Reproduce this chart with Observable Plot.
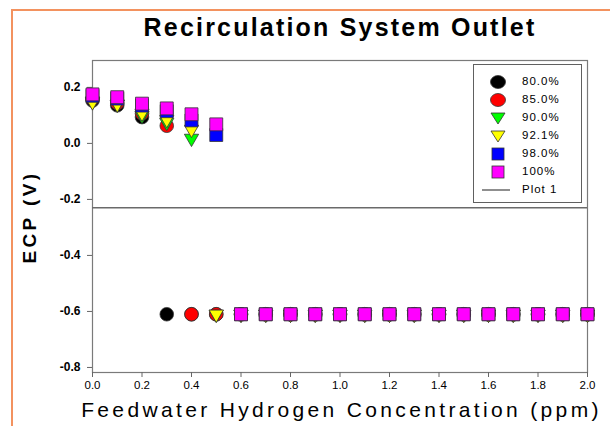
<!DOCTYPE html>
<html>
<head>
<meta charset="utf-8">
<script src="https://cdn.jsdelivr.net/npm/d3@7"></script>
<script src="https://cdn.jsdelivr.net/npm/@observablehq/plot@0.6"></script>
<style>
  html, body { margin: 0; padding: 0; background: #fff; }
  #wrap { position: relative; width: 610px; height: 426px; overflow: hidden; font-family: "Liberation Sans", Arial, sans-serif; }
  #border { position: absolute; left: 11px; top: 9px; right: -5px; bottom: -5px; border-left: 2px solid #f3925f; border-top: 2px solid #f3925f; }
  #title { position: absolute; left: 0; width: 680px; top: 13px; text-align: center; font-weight: bold; font-size: 25px; letter-spacing: 2.2px; color: #000; }
  #chart { position: absolute; left: 0; top: 50px; }
  #xlabel { position: absolute; left: 0; width: 683px; top: 398px; text-align: center; font-size: 21px; letter-spacing: 3.35px; color: #000; }
  #ylabel { position: absolute; left: 30px; top: 217px; transform: translate(-50%, -50%) rotate(-90deg); font-weight: bold; font-size: 19px; letter-spacing: 3.4px; white-space: nowrap; color: #000; }
  #legend { position: absolute; left: 473px; top: 64px; width: 109px; height: 139px; border: 1px solid #606060; background: #fff; box-sizing: border-box; }
  .row { position: absolute; left: 0; height: 18px; display: flex; align-items: center; }
  .row svg { position: absolute; left: 14px; }
  .row span { position: absolute; left: 48px; font-size: 11.5px; letter-spacing: 1px; white-space: nowrap; }
</style>
</head>
<body>
<div id="wrap">
  <div id="border"></div>
  <div id="title">Recirculation System Outlet</div>
  <div id="chart"></div>
  <div id="xlabel">Feedwater Hydrogen Concentration (ppm)</div>
  <div id="ylabel">ECP (V)</div>
  <div id="legend"></div>
</div>
<script>
// Data
const h2 = [0.0,0.1,0.2,0.3,0.4,0.5,0.6,0.7,0.8,0.9,1.0,1.1,1.2,1.3,1.4,1.5,1.6,1.7,1.8,1.9,2.0];
const low = -0.61;
const s80  = [0.153,0.136,0.094,low,low,low,low,low,low,low,low,low,low,low,low,low,low,low,low,low,low];
const s85  = [0.160,0.144,0.107,0.063,low,low,low,low,low,low,low,low,low,low,low,low,low,low,low,low,low];
const s90  = [0.150,0.140,0.100,0.075,0.018,low,low,low,low,low,low,low,low,low,low,low,low,low,low,low,low];
const s921 = [0.148,0.140,0.108,0.085,0.050,low,low,low,low,low,low,low,low,low,low,low,low,low,low,low,low];
const s98  = [0.170,0.160,0.135,0.115,0.082,0.030,low,low,low,low,low,low,low,low,low,low,low,low,low,low,low];
const s100 = [0.175,0.165,0.142,0.125,0.104,0.068,low,low,low,low,low,low,low,low,low,low,low,low,low,low,low];
const seriesNames = ["80.0%","85.0%","90.0%","92.1%","98.0%","100%"];
const plot1Y = -0.23;
const xTicks = [0,0.2,0.4,0.6,0.8,1.0,1.2,1.4,1.6,1.8,2.0];
const yTicks = [-0.8,-0.6,-0.4,-0.2,0.0,0.2];

const styles = [
  {fill: "#000000", symbol: "circle", r: 6.8, rotate: 0},
  {fill: "#ff0000", symbol: "circle", r: 6.8, rotate: 0},
  {fill: "#00ff00", symbol: "triangle", r: 5.3, rotate: 180},
  {fill: "#ffff00", symbol: "triangle", r: 5.3, rotate: 180},
  {fill: "#0000ff", symbol: "square", r: 7.3, rotate: 0},
  {fill: "#ff00ff", symbol: "square", r: 7.3, rotate: 0}
];
const allSeries = [s80, s85, s90, s921, s98, s100];

const dotMarks = allSeries.map((vals, i) => {
  const rows = h2.map((x, j) => ({x, y: vals[j]})).filter(d => d.y != null);
  const st = styles[i];
  return Plot.dot(rows, {
    x: "x", y: "y", symbol: () => st.symbol, fill: st.fill, stroke: "#333",
    strokeWidth: 0.8, r: st.r, rotate: st.rotate
  });
});

const chart = Plot.plot({
  width: 610, height: 376,
  marginLeft: 92, marginRight: 23, marginTop: 10, marginBottom: 54,
  x: {domain: [0, 2]},
  y: {domain: [-0.818, 0.296]},
  symbol: {type: "identity"},
  style: {fontFamily: "Liberation Sans, Arial, sans-serif", fontSize: "11px", background: "transparent", color: "#000"},
  marks: [
    Plot.frame({stroke: "#7a7a7a", strokeWidth: 1.2}),
    Plot.ruleY([plot1Y], {stroke: "#6a6a6a", strokeWidth: 1.5}),
    Plot.axisX({ticks: xTicks, tickSize: 5, tickPadding: 3, tickFormat: d => d.toFixed(1), label: null, stroke: "#666", fill: "#000", fontSize: 11.5, style: "letter-spacing:1px"}),
    Plot.axisY({ticks: yTicks, tickSize: 5, tickPadding: 7, tickFormat: d => d.toFixed(1), label: null, stroke: "#666", fill: "#000", fontSize: 12, fontWeight: "bold"}),
    ...dotMarks
  ]
});
document.getElementById("chart").appendChild(chart);

// Legend
const leg = document.getElementById("legend");
function symPath(st) {
  if (st.symbol === "circle") return `<ellipse cx="10" cy="8" rx="7.5" ry="6.5" fill="${st.fill}" stroke="#333" stroke-width="0.8"/>`;
  if (st.symbol === "triangle") return `<path d="M3,3 L17,3 L10,14 Z" fill="${st.fill}" stroke="#333" stroke-width="0.8"/>`;
  return `<rect x="4" y="2" width="12" height="12" fill="${st.fill}" stroke="#333" stroke-width="0.8"/>`;
}
seriesNames.forEach((name, i) => {
  const row = document.createElement("div");
  row.className = "row";
  row.style.top = (8 + i * 18) + "px";
  row.innerHTML = `<svg width="20" height="16" style="top:1px">${symPath(styles[i])}</svg><span style="top:2px">${name}</span>`;
  leg.appendChild(row);
});
const row = document.createElement("div");
row.className = "row";
row.style.top = (8 + 6 * 18) + "px";
row.innerHTML = `<svg width="34" height="16" style="left:8px;top:1px"><line x1="0" y1="8" x2="28" y2="8" stroke="#6a6a6a" stroke-width="1.5"/></svg><span style="top:2px">Plot 1</span>`;
leg.appendChild(row);
</script>
</body>
</html>
